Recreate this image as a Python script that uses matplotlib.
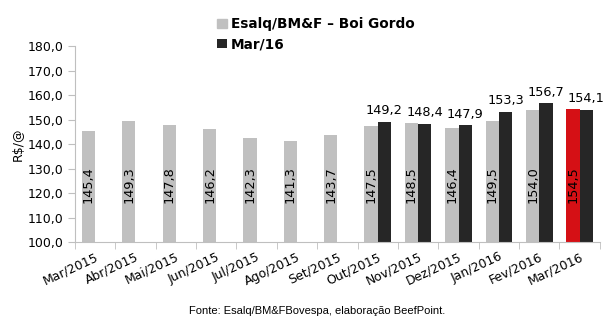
import matplotlib
matplotlib.use("Agg")
import matplotlib.pyplot as plt
import numpy as np

months = ["Mar/2015", "Abr/2015", "Mai/2015", "Jun/2015", "Jul/2015", "Ago/2015",
          "Set/2015", "Out/2015", "Nov/2015", "Dez/2015", "Jan/2016", "Fev/2016", "Mar/2016"]
esalq = [145.4, 149.3, 147.8, 146.2, 142.3, 141.3, 143.7, 147.5, 148.5, 146.4, 149.5, 154.0, 154.5]
mar16 = [np.nan] * 7 + [149.2, 148.4, 147.9, 153.3, 156.7, 154.1]
yticks = [100, 110, 120, 130, 140, 150, 160, 170, 180]

fig = plt.figure(figsize=(6.14, 3.32), dpi=100)
ax = fig.add_axes([0.122, 0.271, 0.855, 0.590])

x = np.arange(len(months))
w = 0.33
gray = "#c0c0c0"
black = "#262626"
red = "#d51015"
colors = [gray] * (len(months) - 1) + [red]

b1 = ax.bar(x - w / 2, esalq, w, color=colors, label="Esalq/BM&F \u2013 Boi Gordo", zorder=2)
b2 = ax.bar(x + w / 2, mar16, w, color=black, label="Mar/16", zorder=2)

fmt = lambda v: f"{v:.1f}".replace(".", ",")
for xi, v in zip(x, esalq):
    ax.text(xi - w / 2, 123.5, fmt(v), rotation=90, ha="center", va="center", fontsize=9.3,
            color="black", zorder=3)
for xi, v in zip(x, mar16):
    if not np.isnan(v):
        ax.annotate(fmt(v), (xi + w / 2, v), xytext=(0, 3), textcoords="offset points",
                    ha="center", va="bottom", fontsize=9.3, zorder=3)

ax.set_ylim(100, 180)
ax.set_xlim(-0.5, len(months) - 0.5)
ax.set_yticks(yticks)
ax.set_yticklabels([fmt(v) for v in yticks], fontsize=9)
ax.set_xticks(x)
ax.set_xticklabels(months, rotation=25, ha="right", rotation_mode="anchor", fontsize=9)
ax.set_xticks(np.arange(-0.5, len(months), 1), minor=True)
ax.tick_params(axis="x", which="major", length=0, pad=6)
ax.tick_params(axis="x", which="minor", length=5, color="#bfbfbf")
ax.tick_params(axis="y", length=5, color="#bfbfbf")
for s in ["top", "right"]:
    ax.spines[s].set_visible(False)
for s in ["left", "bottom"]:
    ax.spines[s].set_color("#bfbfbf")

ax.set_ylabel("R$/@", fontsize=9)
ax.yaxis.set_label_coords(-0.095, 0.5)

leg = fig.legend(handles=[b1, b2], loc="upper left", bbox_to_anchor=(0.345, 0.965),
                 frameon=False, prop={"weight": "bold", "size": 9.8},
                 handlelength=0.7, handleheight=0.7, handletextpad=0.3, labelspacing=0.45,
                 borderaxespad=0)
leg.legend_handles[0].set_color(gray)

fig.text(0.516, 0.063, "Fonte: Esalq/BM&FBovespa, elaboração BeefPoint.", ha="center",
         va="center", fontsize=8, family="Liberation Sans")

fig.savefig("out.png", dpi=100)
